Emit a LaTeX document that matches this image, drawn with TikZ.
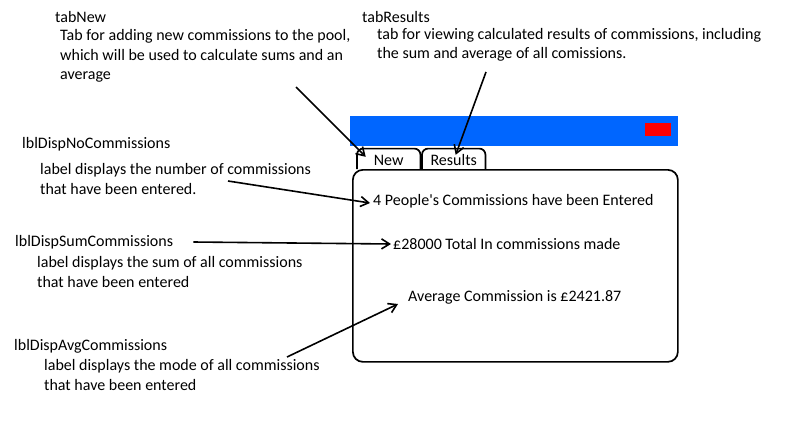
\documentclass[tikz,border=0pt]{standalone}
\usepackage{fontspec}
\setmainfont{Carlito}[Ligatures=TeXOff]
\usetikzlibrary{arrows.meta,positioning}
\definecolor{barblue}{HTML}{0066FF}
\definecolor{closered}{HTML}{FF0000}

\begin{document}
\begin{tikzpicture}[x=1pt,y=-1pt,
  font=\fontsize{16}{19.5}\selectfont,
  txt/.style={inner sep=0pt,align=left,anchor=west},
  tabbox/.style={minimum width=63pt,minimum height=20pt,inner sep=0pt,text height=14pt,text depth=0pt},
  frame/.style={draw,line width=1.7pt},
  arr/.style={-{Straight Barb[length=8pt,width=10pt]},line width=1.6pt}
]
\useasboundingbox (0,0) rectangle (800,434);
% the form
\node[fill=barblue,minimum width=328pt,minimum height=30pt,inner sep=0pt,anchor=north west] (bar) at (350,116) {};
\node[fill=closered,minimum width=26pt,minimum height=13pt,inner sep=0pt,anchor=north east] (close) at (671,123) {};
\node[frame,rounded corners=10pt,minimum width=325pt,minimum height=192pt,inner sep=0pt,anchor=north west] (panel) at (352,169) {};
\node[tabbox,anchor=south west] (tnew) at (357,169) {New};
\node[tabbox,anchor=south west] (tres) at (422,169) {Results};
\draw[frame,rounded corners=6pt] (tnew.south west) |- (tnew.north) -| (tnew.south east);
\draw[frame,rounded corners=6pt] (tres.south west) |- (tres.north) -| (tres.south east);
\node[txt] (lblno) at (373,201) {4 People's Commissions have been Entered};
\node[txt] (lblsum) at (393,244) {£28000 Total In commissions made};
\node[txt] (lblavg) at (408,297) {Average Commission is £2421.87};
% notes
\node[txt] (hnew) at (55,17) {tabNew};
\node[txt] (dnew) at (60,56) {Tab for adding new commissions to the pool,\\which will be used to calculate sums and an\\average};
\node[txt] (hres) at (362,17) {tabResults};
\node[txt] (dres) at (377,45) {tab for viewing calculated results of commissions, including\\the sum and average of all comissions.};
\node[txt] (hno) at (22,144) {lblDispNoCommissions};
\node[txt] (dno) at (40,179) {label displays the number of commissions\\that have been entered.};
\node[txt] (hsum) at (15,242) {lblDispSumCommissions};
\node[txt] (dsum) at (37,272) {label displays the sum of all commissions\\that have been entered};
\node[txt] (havg) at (14,346) {lblDispAvgCommissions};
\node[txt] (davg) at (44,375) {label displays the mode of all commissions\\that have been entered};
% arrows
\coordinate (pnew) at (296,87);
\coordinate (pres) at (486,72);
\coordinate (pno) at (228,181);
\coordinate (pavg) at (287,357);
\draw[arr] (pnew) -- ([xshift=-23pt,yshift=2pt]tnew.center);
\draw[arr] (pres) -- ([xshift=2pt,yshift=4pt]tres.center);
\draw[arr] (pno) -- ([xshift=-3pt,yshift=-2pt]lblno.west);
\draw[arr] ([xshift=20pt]hsum.east) -- ([xshift=-2pt]lblsum.west);
\draw[arr] (pavg) -- ([xshift=-10pt,yshift=-7pt]lblavg.west);
\end{tikzpicture}
\end{document}
